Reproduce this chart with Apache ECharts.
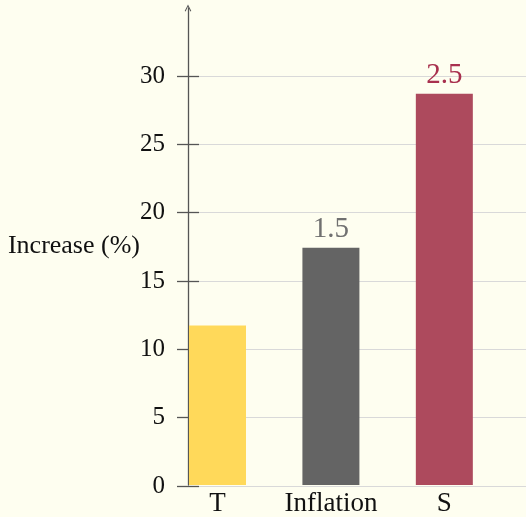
<!DOCTYPE html>
<html>
<head>
<meta charset="utf-8">
<script src="https://cdn.jsdelivr.net/npm/echarts@6/dist/echarts.min.js"></script>
<style>
html,body{margin:0;padding:0;background:#fefef0;}
#chart{width:526px;height:517px;}
</style>
</head>
<body>
<div id="chart"></div>
<script>
const categories = ['T', 'Inflation', 'S'];
const values = [11.7, 17.4, 28.7];
const barLabels = ['', '1.5', '2.5'];
const yTicks = [0, 5, 10, 15, 20, 25, 30];

const barColors = ['#ffd95a', '#646464', '#ad4a5d'];
const labelColors = ['#ffd95a', '#707070', '#a8304e'];
const FONT = '"Liberation Serif", "DejaVu Serif", serif';

const chart = echarts.init(document.getElementById('chart'), null, {renderer: 'canvas'});

const barData = values.map((v, i) => ({
  value: [i, v],
  itemStyle: {color: barColors[i]},
  label: {
    show: barLabels[i] !== '',
    formatter: barLabels[i],
    color: labelColors[i]
  }
}));

chart.setOption({
  backgroundColor: '#fefef0',
  animation: false,
  grid: [
    {left: 188, right: 0, top: 8, bottom: 31},
    {left: 188, right: 0, top: 76, bottom: 31}
  ],
  xAxis: [
    {
      type: 'value', gridIndex: 0, min: -0.26, max: 2.72,
      axisLine: {show: false, onZero: false}, axisTick: {show: false}, splitLine: {show: false},
      axisLabel: {
        customValues: [0, 1, 2],
        formatter: v => categories[Math.round(v)] || '',
        fontFamily: FONT, fontSize: 27, color: '#111', margin: 5
      }
    },
    {type: 'value', gridIndex: 1, min: 0, max: 1, show: false}
  ],
  yAxis: [
    {
      type: 'value', gridIndex: 0, min: 0, max: 35,
      axisLine: {
        show: true, onZero: false,
        symbol: ['none', 'path://M0,10 L5,0 L10,10 L8.6,10.6 L5,3.2 L1.4,10.6 Z'],
        symbolSize: [8, 7],
        symbolOffset: [0, 0],
        lineStyle: {color: '#555', width: 1.3}
      },
      axisTick: {show: false}, axisLabel: {show: false}, splitLine: {show: false},
      name: 'Increase (%)', nameLocation: 'middle', nameRotate: 0, nameGap: 48,
      nameTextStyle: {fontFamily: FONT, fontSize: 26, color: '#111', align: 'right'}
    },
    {
      type: 'value', gridIndex: 1, min: 0, max: 30, interval: 5, offset: -11,
      axisLine: {show: false, onZero: false},
      axisTick: {show: true, length: 22, lineStyle: {color: '#555', width: 1.3}},
      axisLabel: {fontFamily: FONT, fontSize: 25, color: '#111', margin: 34},
      splitLine: {show: true, lineStyle: {color: '#d9d9d9', width: 1}}
    }
  ],
  series: [{
    type: 'bar',
    xAxisIndex: 0, yAxisIndex: 0,
    barWidth: 57,
    data: barData,
    label: {position: 'top', distance: 4, fontFamily: FONT, fontSize: 29}
  }]
});
</script>
</body>
</html>
